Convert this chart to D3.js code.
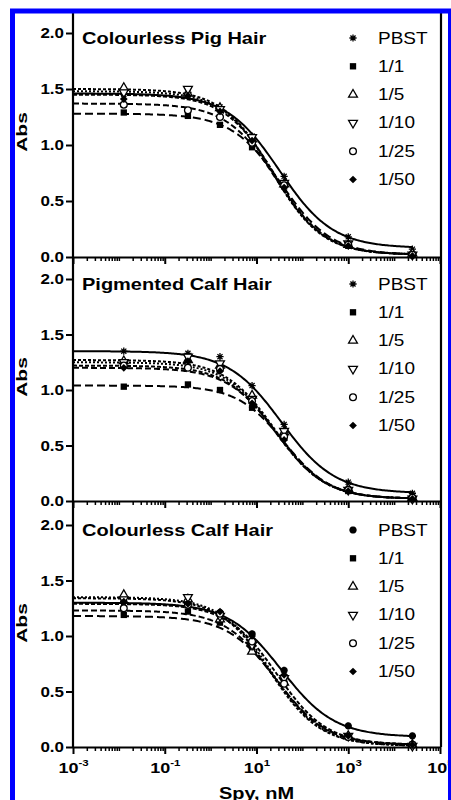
<!DOCTYPE html>
<html>
<head>
<meta charset="utf-8">
<script src="https://cdn.jsdelivr.net/npm/d3@7"></script>
<style>
  body { margin: 0; background: #fff; }
  svg { display: block; }
</style>
</head>
<body>
<div id="chart"></div>
<script>
// concentrations (nM) of the standard series
const conc = [0.0128, 0.32, 1.6, 8, 40, 1000, 25000];
const seriesNames = ["PBST", "1/1", "1/5", "1/10", "1/25", "1/50"];
const panelTitles = ["Colourless Pig Hair", "Pigmented Calf Hair", "Colourless Calf Hair"];
const yTicks = [0, 0.5, 1.0, 1.5, 2.0];
const xMajorExp = [-3, -1, 1, 3, 5];

// Abs readings, one row per series (same order as seriesNames)
const pigHairAbs = [
  [1.45, 1.47, 1.34, 1.08, 0.72, 0.18, 0.07],
  [1.29, 1.26, 1.18, 0.98, 0.63, 0.10, 0.02],
  [1.51, 1.46, 1.33, 1.05, 0.65, 0.11, 0.03],
  [1.47, 1.50, 1.32, 1.07, 0.66, 0.12, 0.02],
  [1.36, 1.31, 1.25, 1.02, 0.64, 0.11, 0.02],
  [1.41, 1.44, 1.30, 1.04, 0.62, 0.10, 0.01]
];
const pigmentedCalfAbs = [
  [1.35, 1.33, 1.30, 1.04, 0.69, 0.17, 0.07],
  [1.03, 1.05, 1.00, 0.84, 0.57, 0.09, 0.02],
  [1.26, 1.27, 1.22, 0.95, 0.62, 0.11, 0.03],
  [1.25, 1.30, 1.24, 0.92, 0.63, 0.10, 0.02],
  [1.22, 1.20, 1.19, 0.90, 0.58, 0.10, 0.03],
  [1.20, 1.26, 1.17, 0.88, 0.55, 0.09, 0.02]
];
const colourlessCalfAbs = [
  [1.31, 1.30, 1.21, 1.02, 0.69, 0.19, 0.10],
  [1.19, 1.22, 1.12, 0.90, 0.60, 0.09, 0.02],
  [1.37, 1.33, 1.15, 0.86, 0.58, 0.10, 0.02],
  [1.33, 1.35, 1.18, 0.92, 0.62, 0.10, 0.01],
  [1.25, 1.28, 1.20, 0.95, 0.57, 0.09, 0.02],
  [1.31, 1.29, 1.22, 1.00, 0.65, 0.10, 0.02]
];

// fitted 4PL curves: [top, bottom, IC50 (nM), hill]
const pigHairFit = [
  [1.46, 0.08, 32, 0.75],
  [1.28, 0.02, 35, 0.8],
  [1.50, 0.02, 22, 0.8],
  [1.48, 0.02, 23, 0.8],
  [1.37, 0.02, 27, 0.8],
  [1.45, 0.02, 25, 0.8]
];
const pigmentedCalfFit = [
  [1.35, 0.07, 35, 0.75],
  [1.04, 0.02, 40, 0.85],
  [1.27, 0.02, 25, 0.8],
  [1.25, 0.02, 25, 0.8],
  [1.20, 0.02, 28, 0.8],
  [1.22, 0.02, 26, 0.8]
];
const colourlessCalfFit = [
  [1.30, 0.09, 35, 0.75],
  [1.18, 0.02, 28, 0.8],
  [1.34, 0.01, 20, 0.8],
  [1.35, 0.01, 21, 0.8],
  [1.23, 0.02, 25, 0.8],
  [1.29, 0.02, 28, 0.8]
];

const panelAbs = [pigHairAbs, pigmentedCalfAbs, colourlessCalfAbs];
const panelFit = [pigHairFit, pigmentedCalfFit, colourlessCalfFit];

const width = 451, height = 800;
const font = "'Liberation Sans', Arial, Helvetica, sans-serif";
const squash = 0.83; // text in the figure is slightly flattened

const panelTop = [33, 279, 525];
const panelBottom = [257, 501, 747];
const plotLeft = 73, plotRight = 440;

const dashes = [null, "8,4", "3,2", "2,2", "6,3", "4,2"];
const starWidth = [1.3, 1.3, 2.4]; // asterisk looks heavier in the last panel

const svg = d3.select("#chart").append("svg")
  .attr("width", width)
  .attr("height", height);

svg.append("rect").attr("width", width).attr("height", height).attr("fill", "#fff");

const x = d3.scaleLog().domain([1e-3, 1e5]).range([plotLeft, plotRight]);

function fourPL(p, c) {
  return p[1] + (p[0] - p[1]) / (1 + Math.pow(c / p[2], p[3]));
}

function asterisk(r) {
  const a = r * 0.707;
  return `M0,${-r}V${r}M${-r},0H${r}M${-a},${-a}L${a},${a}M${-a},${a}L${a},${-a}`;
}

function drawMarker(g, i, cx, cy, p) {
  const m = g.append("g").attr("transform", `translate(${cx},${cy})`);
  if (i === 0) {
    m.append("path").attr("d", asterisk(3.6)).attr("stroke", "#000").attr("stroke-width", starWidth[p]);
  } else if (i === 1) {
    m.append("path").attr("d", d3.symbol(d3.symbolSquare, 40)()).attr("fill", "#000");
  } else if (i === 2) {
    m.append("path").attr("d", d3.symbol(d3.symbolTriangle, 34)())
      .attr("fill", "#fff").attr("stroke", "#000").attr("stroke-width", 1.3);
  } else if (i === 3) {
    m.append("path").attr("d", d3.symbol(d3.symbolTriangle, 34)())
      .attr("transform", "rotate(180)")
      .attr("fill", "#fff").attr("stroke", "#000").attr("stroke-width", 1.3);
  } else if (i === 4) {
    m.append("circle").attr("r", 3.4)
      .attr("fill", "#fff").attr("stroke", "#000").attr("stroke-width", 1.3);
  } else {
    m.append("path").attr("d", d3.symbol(d3.symbolSquare, 30)())
      .attr("transform", "rotate(45)").attr("fill", "#000");
  }
}

function flatText(g, tx, ty, str, size, weight, anchor) {
  return g.append("text")
    .attr("transform", `translate(${tx},${ty}) scale(1,${squash})`)
    .attr("font-family", font)
    .attr("font-size", size)
    .attr("font-weight", weight)
    .attr("text-anchor", anchor)
    .attr("fill", "#000")
    .text(str);
}

// curve sample points along x (log spaced up to last standard)
const curveX = d3.range(0, 241).map((i) => Math.pow(10, -3 + i * (Math.log10(25000) + 3) / 240));

panelTitles.forEach((title, p) => {
  const y = d3.scaleLinear().domain([0, 2]).range([panelBottom[p], panelTop[p]]);
  const g = svg.append("g");

  // y axis ticks and labels
  const yAxis = g.append("g")
    .attr("transform", `translate(${plotLeft},0)`)
    .call(d3.axisLeft(y).tickValues(yTicks).tickSize(7).tickSizeOuter(0).tickPadding(2)
      .tickFormat(d3.format(".1f")));
  yAxis.select(".domain").remove();
  yAxis.selectAll("line").attr("stroke-width", 2);
  yAxis.selectAll("text")
    .attr("font-family", font)
    .attr("font-size", 17)
    .attr("font-weight", "bold")
    .attr("fill", "#000")
    .attr("transform", `scale(1,${squash})`);

  // x axis: minor and major ticks
  const minors = [];
  for (let e = -3; e < 5; e++) {
    for (let k = 1; k <= 9; k++) {
      if (k === 1 && xMajorExp.includes(e)) continue;
      minors.push(k * Math.pow(10, e));
    }
  }
  const xMinor = g.append("g")
    .attr("transform", `translate(0,${panelBottom[p]})`)
    .call(d3.axisBottom(x).tickValues(minors).tickSize(4).tickSizeOuter(0).tickFormat(() => ""));
  xMinor.select(".domain").attr("stroke-width", 2);
  xMinor.selectAll("line").attr("stroke-width", 1.5);

  const xMajor = g.append("g")
    .attr("transform", `translate(0,${panelBottom[p]})`)
    .call(d3.axisBottom(x).tickValues(xMajorExp.map((e) => Math.pow(10, e)))
      .tickSize(7).tickSizeOuter(0).tickFormat(() => ""));
  xMajor.select(".domain").remove();
  xMajor.selectAll("line").attr("stroke-width", 2);

  if (p === panelTitles.length - 1) {
    xMajor.selectAll(".tick").each(function (d) {
      const t = d3.select(this).append("text")
        .attr("transform", `translate(0,26) scale(1,${squash})`)
        .attr("font-family", font)
        .attr("font-weight", "bold")
        .attr("text-anchor", "middle")
        .attr("fill", "#000");
      t.append("tspan").attr("font-size", 18).text("10");
      t.append("tspan").attr("font-size", 11.5).attr("dy", -8)
        .text(String(Math.round(Math.log10(d))));
    });
  }

  // title
  flatText(g, 82, panelTop[p] + 11, title, 20, "bold", "start");

  // y label
  g.append("text")
    .attr("transform", `translate(27,${(panelTop[p] + panelBottom[p]) / 2 - 13}) rotate(-90) scale(1.05,0.72)`)
    .attr("font-family", font)
    .attr("font-size", 20)
    .attr("font-weight", "bold")
    .attr("text-anchor", "middle")
    .attr("fill", "#000")
    .text("Abs");

  // fitted curves
  const line = d3.line().x((d) => x(d[0])).y((d) => y(d[1]));
  panelFit[p].forEach((fit, i) => {
    g.append("path")
      .datum(curveX.map((c) => [c, fourPL(fit, c)]))
      .attr("d", line)
      .attr("fill", "none")
      .attr("stroke", "#000")
      .attr("stroke-width", 2)
      .attr("stroke-dasharray", dashes[i]);
  });

  // data points
  panelAbs[p].forEach((vals, i) => {
    vals.forEach((v, j) => drawMarker(g, i, x(conc[j]), y(v), p));
  });

  // legend
  seriesNames.forEach((name, i) => {
    const ly = panelTop[p] + 5 + i * 28.3;
    drawMarker(g, i, 353, ly, p);
    flatText(g, 378, ly + 5.5, name, 19, "normal", "start");
  });
});

// frame lines spanning all panels
svg.append("line")
  .attr("x1", plotLeft).attr("x2", plotLeft)
  .attr("y1", 13).attr("y2", panelBottom[2])
  .attr("stroke", "#000").attr("stroke-width", 2.2);
svg.append("line")
  .attr("x1", plotRight + 1).attr("x2", plotRight + 1)
  .attr("y1", 13).attr("y2", panelBottom[2])
  .attr("stroke", "#000").attr("stroke-width", 2.2);

// x axis title
flatText(svg, (plotLeft + plotRight) / 2, 799, "Spy, nM", 20, "bold", "middle");

// blue border
svg.append("rect")
  .attr("x", 12.5).attr("y", 11)
  .attr("width", 438).attr("height", 820)
  .attr("fill", "none")
  .attr("stroke", "#0000ff")
  .attr("stroke-width", 5);
</script>
</body>
</html>
